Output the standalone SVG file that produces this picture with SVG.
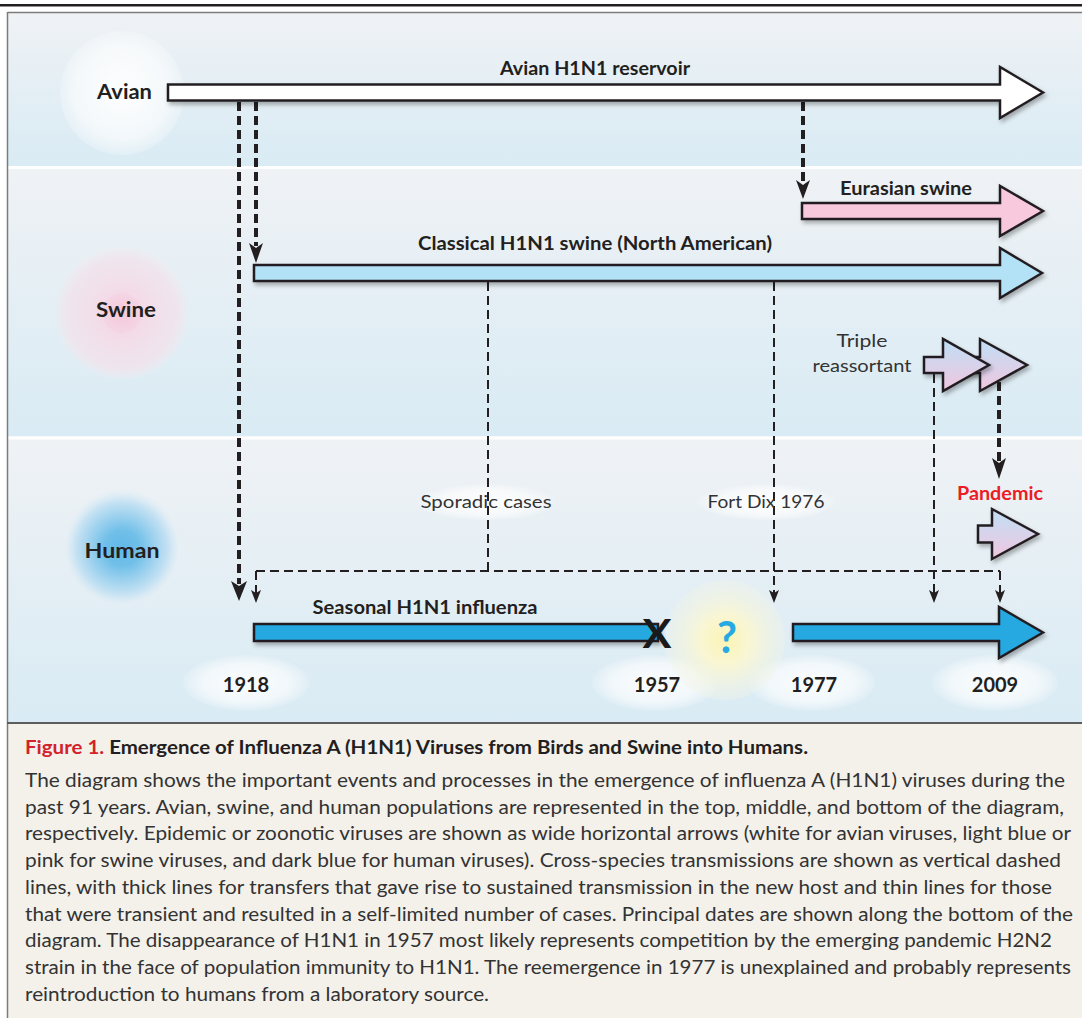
<svg xmlns="http://www.w3.org/2000/svg" width="1082" height="1018" viewBox="0 0 1082 1018">
<defs>
<linearGradient id="band" x1="0" y1="0" x2="0" y2="1">
<stop offset="0" stop-color="#eff2f5"/>
<stop offset="1" stop-color="#d9ebf4"/>
</linearGradient>
<linearGradient id="mix" x1="0" y1="0" x2="0" y2="1">
<stop offset="0" stop-color="#bfdff5"/>
<stop offset="1" stop-color="#f0c6df"/>
</linearGradient>
<radialGradient id="gAvian">
<stop offset="0" stop-color="#ffffff" stop-opacity="0.95"/>
<stop offset="0.75" stop-color="#ffffff" stop-opacity="0.6"/>
<stop offset="1" stop-color="#ffffff" stop-opacity="0.2"/>
</radialGradient>
<radialGradient id="gSwine">
<stop offset="0" stop-color="#f4c9dc"/>
<stop offset="0.28" stop-color="#f4d4e3"/>
<stop offset="0.32" stop-color="#f3dbe7"/>
<stop offset="0.85" stop-color="#f1e3ec" stop-opacity="0.8"/>
<stop offset="1" stop-color="#f0eaf0" stop-opacity="0.3"/>
</radialGradient>
<radialGradient id="gHuman">
<stop offset="0" stop-color="#62b8e7"/>
<stop offset="0.3" stop-color="#70bfe9"/>
<stop offset="0.8" stop-color="#c6e2f3"/>
<stop offset="1" stop-color="#e8f0f5" stop-opacity="0.5"/>
</radialGradient>
<radialGradient id="gYellow">
<stop offset="0" stop-color="#fbf4b4"/>
<stop offset="0.4" stop-color="#f9f6d2"/>
<stop offset="1" stop-color="#f3f5e6" stop-opacity="0.3"/>
</radialGradient>
<radialGradient id="gOval">
<stop offset="0" stop-color="#ffffff" stop-opacity="0.9"/>
<stop offset="0.7" stop-color="#ffffff" stop-opacity="0.6"/>
<stop offset="1" stop-color="#ffffff" stop-opacity="0.1"/>
</radialGradient>
<filter id="sh" x="-10%" y="-40%" width="125%" height="200%">
<feDropShadow dx="2" dy="3" stdDeviation="2" flood-color="#000" flood-opacity="0.3"/>
</filter>
<style>
.lb{font-family:Lato,"Open Sans","Liberation Sans",sans-serif;font-weight:bold;fill:#231f20;}
.lr{font-family:Lato,"Open Sans","Liberation Sans",sans-serif;font-weight:normal;fill:#333;}
.arr{stroke:#231f20;stroke-width:2.5;stroke-linejoin:miter;filter:url(#sh);}
.thick{stroke:#231f20;stroke-width:4;stroke-dasharray:9 5;fill:none;}
.thin{stroke:#231f20;stroke-width:2;stroke-dasharray:9 5;fill:none;}
.ah{fill:#231f20;}
.cap{font-family:Lato,"Open Sans","Liberation Sans",sans-serif;font-size:18.5px;fill:#333;}
</style>
</defs>

<!-- page -->
<rect x="0" y="0" width="1082" height="1018" fill="#ffffff"/>
<rect x="0" y="4" width="1082" height="2.5" fill="#231f20"/>
<rect x="8" y="13" width="1080" height="710" fill="#eef1f4"/>
<rect x="8" y="13" width="1080" height="153" fill="url(#band)"/>
<rect x="8" y="169" width="1080" height="267" fill="url(#band)"/>
<rect x="8" y="440" width="1080" height="282" fill="url(#band)"/>
<rect x="8" y="166" width="1080" height="3" fill="#ffffff"/>
<rect x="8" y="436.5" width="1080" height="3" fill="#ffffff"/>
<rect x="8" y="724" width="1080" height="300" fill="#f4f1eb"/>
<line x1="7.5" y1="12.5" x2="1082" y2="12.5" stroke="#7b7b7b" stroke-width="1.5"/>
<line x1="7.5" y1="12" x2="7.5" y2="1018" stroke="#7b7b7b" stroke-width="1.5"/>
<line x1="7" y1="723" x2="1082" y2="723" stroke="#5d5d5d" stroke-width="2"/>

<!-- glows and label ovals -->
<g id="glows">
<circle cx="122" cy="93" r="62" fill="url(#gAvian)"/>
<circle cx="122" cy="313" r="66" fill="url(#gSwine)"/>
<circle cx="122" cy="548" r="58" fill="url(#gHuman)"/>
<ellipse cx="486" cy="502" rx="68" ry="18" fill="url(#gOval)"/>
<ellipse cx="766" cy="502" rx="68" ry="18" fill="url(#gOval)"/>
<ellipse cx="246" cy="683" rx="63" ry="28" fill="url(#gOval)"/>
<ellipse cx="655" cy="683" rx="63" ry="28" fill="url(#gOval)"/>
<ellipse cx="812" cy="683" rx="63" ry="28" fill="url(#gOval)"/>
<ellipse cx="995" cy="683" rx="63" ry="28" fill="url(#gOval)"/>
<circle cx="725" cy="640" r="60" fill="url(#gYellow)"/>
</g>

<!-- host labels -->
<g id="host-avian"><text class="lb" x="97" y="99" font-size="20" textLength="55" lengthAdjust="spacingAndGlyphs">Avian</text></g>
<g id="host-swine"><text class="lb" x="126" y="317" font-size="20" text-anchor="middle" textLength="60" lengthAdjust="spacingAndGlyphs">Swine</text></g>
<g id="host-human"><text class="lb" x="122" y="558" font-size="20" text-anchor="middle" textLength="75" lengthAdjust="spacingAndGlyphs">Human</text></g>

<!-- connectors -->
<g id="connectors">
<line class="thick" x1="239" y1="102" x2="239" y2="584"/>
<path class="ah" d="M231,581 L239,586 L247,581 L239,601 Z"/>
<line class="thick" x1="256" y1="102" x2="256" y2="246"/>
<path class="ah" d="M249,243 L256,248 L263,243 L256,263 Z"/>
<line class="thick" x1="803" y1="102" x2="803" y2="182"/>
<path class="ah" d="M796,180 L803,185 L810,180 L803,199 Z"/>
<line class="thick" x1="999" y1="382" x2="999" y2="461"/>
<path class="ah" d="M992,458 L999,463 L1006,458 L999,479 Z"/>

<line class="thin" x1="488" y1="282" x2="488" y2="571"/>
<line class="thin" x1="774" y1="282" x2="774" y2="594"/>
<path class="ah" d="M769,590 L774,593 L779,590 L774,603 Z"/>
<line class="thin" x1="934" y1="374" x2="934" y2="594"/>
<path class="ah" d="M929,590 L934,593 L939,590 L934,603 Z"/>
<line class="thin" x1="256" y1="571" x2="1000" y2="571"/>
<line class="thin" x1="256" y1="571" x2="256" y2="594"/>
<path class="ah" d="M251,590 L256,593 L261,590 L256,603 Z"/>
<line class="thin" x1="1000" y1="571" x2="1000" y2="594"/>
<path class="ah" d="M995,590 L1000,593 L1005,590 L1000,603 Z"/>
</g>

<!-- lineage arrows -->
<g id="avian-reservoir">
<path class="arr" fill="#ffffff" d="M168,84.5 H1000 V67 L1043,92.5 L1000,118 V100.5 H168 Z"/>
<text class="lb" x="595" y="75" font-size="18" text-anchor="middle" textLength="190" lengthAdjust="spacingAndGlyphs">Avian H1N1 reservoir</text>
</g>
<g id="eurasian-swine">
<path class="arr" fill="#f8c8dc" d="M802,203 H1000 V186 L1043,211 L1000,236 V219 H802 Z"/>
<text class="lb" x="906" y="195" font-size="18" text-anchor="middle" textLength="132" lengthAdjust="spacingAndGlyphs">Eurasian swine</text>
</g>
<g id="classical-swine">
<path class="arr" fill="#b3e2f6" d="M254,265 H1000 V248 L1042,273 L1000,298 V281 H254 Z"/>
<text class="lb" x="595" y="250" font-size="18" text-anchor="middle" textLength="354" lengthAdjust="spacingAndGlyphs">Classical H1N1 swine (North American)</text>
</g>
<g id="triple-reassortant">
<path class="arr" fill="url(#mix)" d="M960,357 H980 V339 L1027,365 L980,391 V373 H960 Z"/>
<path class="arr" fill="url(#mix)" d="M924,357 H943 V339 L989,365 L943,391 V373 H924 Z"/>
<text class="lr" x="862" y="347" font-size="18" text-anchor="middle" textLength="51" lengthAdjust="spacingAndGlyphs">Triple</text>
<text class="lr" x="862" y="372" font-size="18" text-anchor="middle" textLength="99" lengthAdjust="spacingAndGlyphs">reassortant</text>
</g>
<g id="pandemic">
<text class="lb" x="1000" y="500" font-size="18" text-anchor="middle" style="fill:#ec1c24" textLength="86" lengthAdjust="spacingAndGlyphs">Pandemic</text>
<path class="arr" fill="url(#mix)" d="M978,525.5 H992 V509 L1038,534 L992,559 V542.5 H978 Z"/>
</g>
<g id="sporadic-cases"><text class="lr" x="486" y="508" font-size="18" text-anchor="middle" textLength="131" lengthAdjust="spacingAndGlyphs">Sporadic cases</text></g>
<g id="fort-dix"><text class="lr" x="766" y="508" font-size="18" text-anchor="middle" textLength="117" lengthAdjust="spacingAndGlyphs">Fort Dix 1976</text></g>
<g id="seasonal-h1n1">
<rect class="arr" fill="#25a9e0" x="254" y="624" width="404" height="17"/>
<text class="lb" x="425" y="614" font-size="18" text-anchor="middle" textLength="225" lengthAdjust="spacingAndGlyphs">Seasonal H1N1 influenza</text>
<text class="lb" x="657" y="648" font-size="40" text-anchor="middle" style="fill:#1a1a1a" textLength="29" lengthAdjust="spacingAndGlyphs">X</text>
</g>
<g id="reemergence">
<text class="lb" x="727" y="653" font-size="44" text-anchor="middle" style="fill:#27aae1" textLength="20" lengthAdjust="spacingAndGlyphs">?</text>
<path class="arr" fill="#25a9e0" d="M793,624 H999 V607 L1043,632.5 L999,658 V641 H793 Z"/>
</g>

<!-- years -->
<g id="years">
<text class="lb" x="246" y="692" font-size="20" text-anchor="middle">1918</text>
<text class="lb" x="657" y="692" font-size="20" text-anchor="middle">1957</text>
<text class="lb" x="814" y="692" font-size="20" text-anchor="middle">1977</text>
<text class="lb" x="995" y="692" font-size="20" text-anchor="middle">2009</text>
</g>

<!-- caption -->
<g id="caption">
<text class="cap" x="25" y="754" font-weight="bold" textLength="783" lengthAdjust="spacingAndGlyphs"><tspan fill="#d2232a">Figure 1.</tspan><tspan fill="#231f20"> Emergence of Influenza A (H1N1) Viruses from Birds and Swine into Humans.</tspan></text>
<text class="cap" x="25" y="787" textLength="1040" lengthAdjust="spacingAndGlyphs">The diagram shows the important events and processes in the emergence of influenza A (H1N1) viruses during the</text>
<text class="cap" x="25" y="813.7" textLength="1039" lengthAdjust="spacingAndGlyphs">past 91 years. Avian, swine, and human populations are represented in the top, middle, and bottom of the diagram,</text>
<text class="cap" x="25" y="840.4" textLength="1046" lengthAdjust="spacingAndGlyphs">respectively. Epidemic or zoonotic viruses are shown as wide horizontal arrows (white for avian viruses, light blue or</text>
<text class="cap" x="25" y="867.1" textLength="1036" lengthAdjust="spacingAndGlyphs">pink for swine viruses, and dark blue for human viruses). Cross-species transmissions are shown as vertical dashed</text>
<text class="cap" x="25" y="893.8" textLength="1027" lengthAdjust="spacingAndGlyphs">lines, with thick lines for transfers that gave rise to sustained transmission in the new host and thin lines for those</text>
<text class="cap" x="25" y="920.5" textLength="1048" lengthAdjust="spacingAndGlyphs">that were transient and resulted in a self-limited number of cases. Principal dates are shown along the bottom of the</text>
<text class="cap" x="25" y="947.2" textLength="1027" lengthAdjust="spacingAndGlyphs">diagram. The disappearance of H1N1 in 1957 most likely represents competition by the emerging pandemic H2N2</text>
<text class="cap" x="25" y="973.9" textLength="1046" lengthAdjust="spacingAndGlyphs">strain in the face of population immunity to H1N1. The reemergence in 1977 is unexplained and probably represents</text>
<text class="cap" x="25" y="1000.6" textLength="464" lengthAdjust="spacingAndGlyphs">reintroduction to humans from a laboratory source.</text>
</g>
</svg>
